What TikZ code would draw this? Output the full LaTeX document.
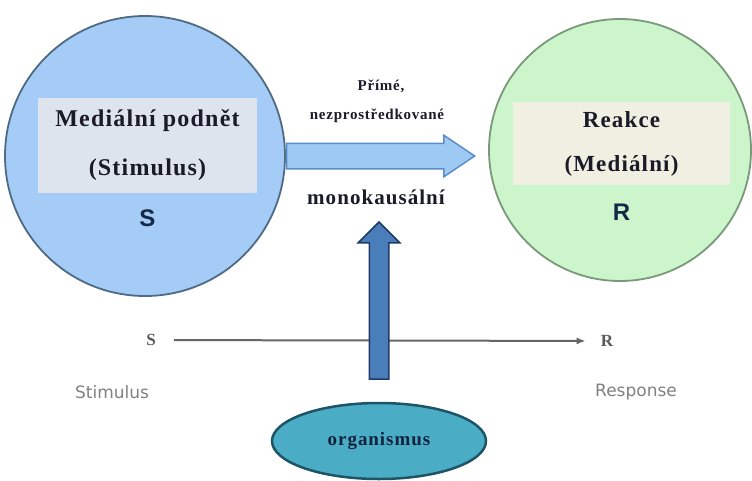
\documentclass[tikz,border=0pt]{standalone}
\usepackage{fontspec}
\setmainfont{Liberation Serif}
\setsansfont{Liberation Sans}
\newfontfamily\spacedserif[LetterSpace=5]{Liberation Serif}
\newfontfamily\widesans{DejaVu Sans}
\usetikzlibrary{arrows.meta,positioning,shapes.arrows,shapes.geometric}
\definecolor{stimblue}{HTML}{A5CCF7}
\definecolor{stimedge}{HTML}{4F6B84}
\definecolor{respgreen}{HTML}{CCF5CC}
\definecolor{respedge}{HTML}{7A987A}
\definecolor{stimpanel}{HTML}{DEE4EE}
\definecolor{resppanel}{HTML}{EFF0E2}
\definecolor{flowblue}{HTML}{9DC9F3}
\definecolor{flowedge}{HTML}{5B8DC8}
\definecolor{causeblue}{HTML}{4A7EBB}
\definecolor{causeedge}{HTML}{1E3A66}
\definecolor{orgteal}{HTML}{4BACC6}
\definecolor{orgedge}{HTML}{1D5566}
\definecolor{inktext}{HTML}{1A1A28}

\begin{document}
\begin{tikzpicture}[x=1pt,y=-1pt,>=Latex,
circ/.style={circle,line width=1.8pt,inner sep=0pt},
head/.style={inner sep=0pt,align=center,text=inktext,font=\spacedserif\bfseries\fontsize{24}{28}\selectfont},
letter/.style={inner sep=0pt,text=causeedge!70!black,font=\sffamily\bfseries\fontsize{24}{28}\selectfont},
fat/.style={single arrow,inner xsep=0pt,line width=1.5pt,minimum width=40pt},
small/.style={inner sep=0pt,text=inktext,font=\spacedserif\bfseries\fontsize{15}{17}\selectfont},
grey/.style={inner sep=0pt,text=black!50,font=\widesans\fontsize{17}{20}\selectfont}]
\useasboundingbox (0,0) rectangle (752,480);
% stimulus and response circles
\node[circ,draw=stimedge,fill=stimblue,minimum size=280pt] (stim) at (145,156) {};
\node[circ,draw=respedge,fill=respgreen,minimum size=262pt] (resp) at (620,150) {};
\node[head,fill=stimpanel,minimum width=219pt,minimum height=95pt] (stimbox) at (147.5,145.5) {Mediální podnět\\[21pt](Stimulus)};
\node[head,fill=resppanel,minimum width=217pt,minimum height=83pt,font=\spacedserif\bfseries\fontsize{23}{27}\selectfont] (respbox) at (621.5,143.5) {Reakce\\[17pt](Mediální)};
\node[letter,below=16pt of stimbox] (stimS) {S};
\node[letter,below=19pt of respbox] (respR) {R};
% direct link
\node[fat,draw=flowedge,fill=flowblue,inner ysep=12pt,single arrow head extend=8pt,single arrow tip angle=68,minimum height=188pt,anchor=tail] (direct) at (stim.east) {};
\node[small] (prime) at (381,86) {Přímé,};
\node[small] (mediated) at (377,116) {nezprostředkované};
\node[head,font=\spacedserif\bfseries\fontsize{21}{24}\selectfont] (mono) at (376,197) {monokausální};
% S-O-R line
\node[small,text=black!65,font=\spacedserif\bfseries\fontsize{17}{20}\selectfont] (lineS) at (151,340) {S};
\node[small,text=black!65,font=\spacedserif\bfseries\fontsize{17}{20}\selectfont] (lineR) at (607,341) {R};
\draw[-{Latex[length=9pt,width=7pt]},line width=2pt,black!60,shorten <=18pt,shorten >=15pt] (lineS) -- (lineR);
\node[grey] (stimtxt) at (112,392) {Stimulus};
\node[grey] (resptxt) at (636,392) {Response};
\node[ellipse,draw=orgedge,fill=orgteal,line width=2.5pt,minimum width=214pt,minimum height=76pt,small,text=causeedge!60!black,font=\spacedserif\bfseries\fontsize{19}{22}\selectfont] (org) at (379,441) {organismus};
\node[fat,draw=causeedge,fill=causeblue,inner sep=9pt,single arrow head extend=11pt,minimum height=157pt,shape border rotate=90,anchor=tail] (cause) at ([yshift=22pt]org.north) {};
\end{tikzpicture}
\end{document}
